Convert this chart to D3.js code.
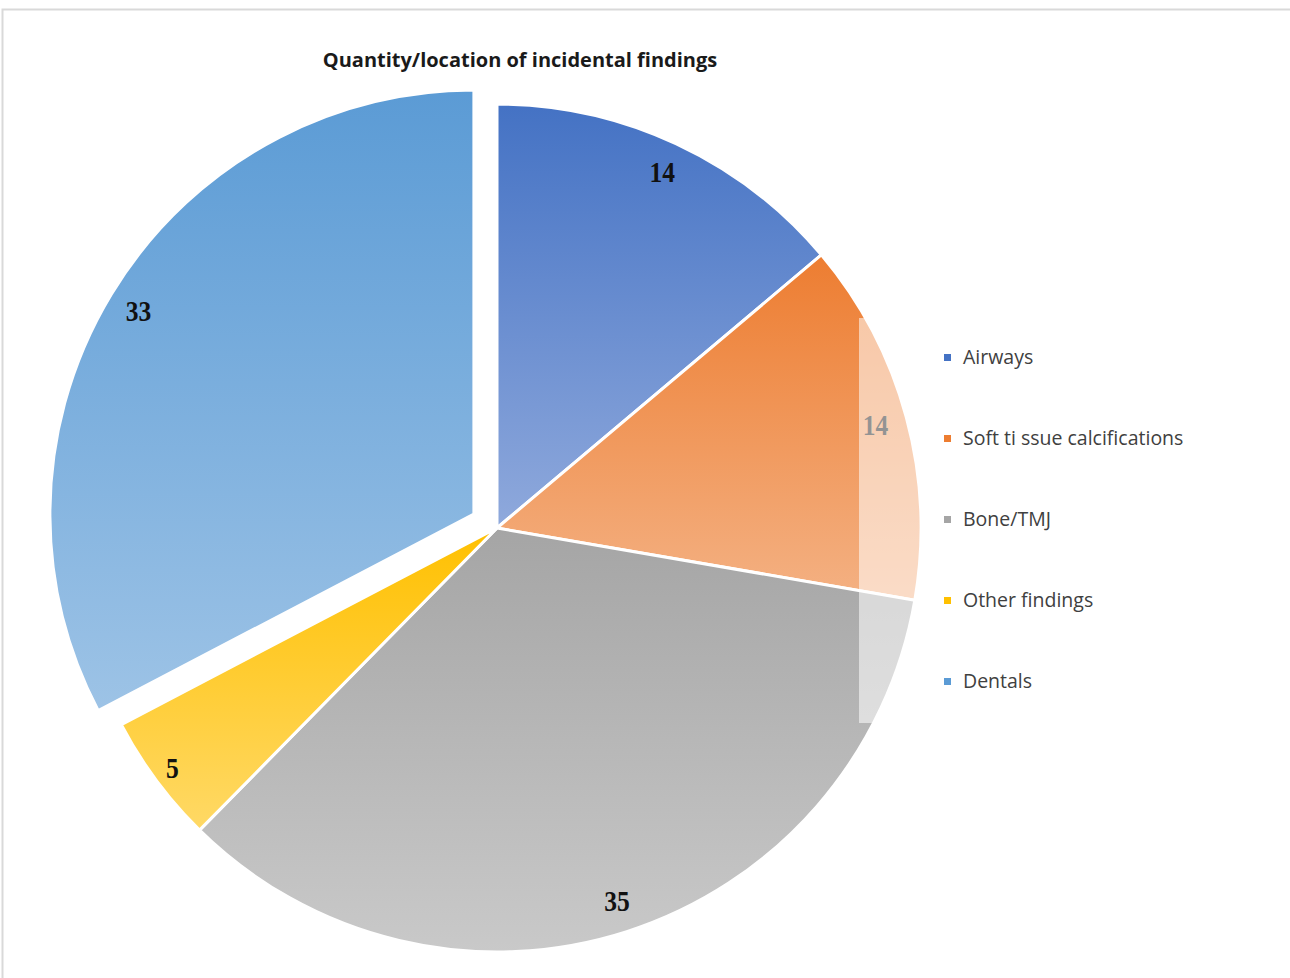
<!DOCTYPE html>
<html>
<head>
<meta charset="utf-8">
<script src="https://cdn.jsdelivr.net/npm/d3@7"></script>
<style>
  body { margin: 0; background: #fff; }
  svg { display: block; }
</style>
</head>
<body>
<svg id="chart" width="1290" height="978"></svg>
<script>
// data
const categories = ['Airways', 'Soft ti ssue calcifications', 'Bone/TMJ', 'Other findings', 'Dentals'];
const counts = [14, 14, 35, 5, 33];
const topColors = ['#4472C4', '#ED7D31', '#A5A5A5', '#FFC000', '#5B9BD5'];
const bottomColors = ['#8FA9DC', '#F4B183', '#C9C9C9', '#FFD966', '#9DC3E6'];
const exploded = ['Dentals'];

const width = 1290, height = 978;
const cx = 497, cy = 528;
const radius = 424;
const explodeBy = 27;
const labelR = 392;

const svg = d3.select('#chart');

// frame of the original figure
svg.append('path')
    .attr('d', `M2.5,${height} V9.5 H${width}`)
    .attr('fill', 'none')
    .attr('stroke', '#d9d9d9')
    .attr('stroke-width', 2);

svg.append('text')
    .attr('x', 520)
    .attr('y', 67)
    .attr('text-anchor', 'middle')
    .attr('font-family', '"Open Sans", sans-serif')
    .attr('font-weight', 'bold')
    .attr('font-size', '20px')
    .attr('fill', '#1a1a1a')
    .text('Quantity/location of incidental findings');

const data = categories.map((c, i) => ({ name: c, value: counts[i], i }));

const defs = svg.append('defs');
data.forEach(d => {
    const g = defs.append('linearGradient')
        .attr('id', 'grad' + d.i)
        .attr('x1', 0).attr('y1', 0).attr('x2', 0).attr('y2', 1);
    g.append('stop').attr('offset', '0%').attr('stop-color', topColors[d.i]);
    g.append('stop').attr('offset', '100%').attr('stop-color', bottomColors[d.i]);
});

const pie = d3.pie().sort(null).value(d => d.value);
const arcs = pie(data);
const arc = d3.arc().innerRadius(0).outerRadius(radius);

function offset(a) {
    if (!exploded.includes(a.data.name)) return [0, 0];
    const mid = (a.startAngle + a.endAngle) / 2;
    return [Math.sin(mid) * explodeBy, -Math.cos(mid) * explodeBy];
}

const g = svg.append('g').attr('transform', `translate(${cx},${cy})`);

const slices = g.selectAll('g.slice')
    .data(arcs)
    .enter()
    .append('g')
    .attr('class', 'slice')
    .attr('transform', a => `translate(${offset(a)})`);

slices.append('path')
    .attr('d', arc)
    .attr('fill', a => `url(#grad${a.data.i})`)
    .attr('stroke', '#fff')
    .attr('stroke-width', 3)
    .attr('stroke-linejoin', 'round');

slices.append('text')
    .attr('transform', a => {
        const mid = (a.startAngle + a.endAngle) / 2;
        // small slices get their label pushed a bit further out
        const r = a.data.value < 10 ? labelR + 12 : labelR;
        return `translate(${Math.sin(mid) * r},${-Math.cos(mid) * r}) scale(0.88,1)`;
    })
    .attr('text-anchor', 'middle')
    .attr('dy', '0.33em')
    .attr('font-family', '"Liberation Serif", serif')
    .attr('font-weight', 'bold')
    .attr('font-size', '29px')
    .attr('fill', '#111')
    .text(a => a.data.value);

// washed-out legend box overlapping the pie edge
svg.append('rect')
    .attr('x', 859)
    .attr('y', 318)
    .attr('width', 70)
    .attr('height', 405)
    .attr('fill', '#fff')
    .attr('opacity', 0.55);

const legendY = d3.scalePoint()
    .domain(categories)
    .range([357, 681]);

const legend = svg.selectAll('g.legend')
    .data(data)
    .enter()
    .append('g')
    .attr('class', 'legend')
    .attr('transform', d => `translate(944,${legendY(d.name)})`);

legend.append('rect')
    .attr('x', 0)
    .attr('y', -3)
    .attr('width', 7)
    .attr('height', 7)
    .attr('fill', d => topColors[d.i]);

legend.append('text')
    .attr('x', 19)
    .attr('y', 0)
    .attr('dy', '0.35em')
    .attr('font-family', '"Open Sans", sans-serif')
    .attr('font-size', '19.5px')
    .attr('fill', '#404040')
    .text(d => d.name);
</script>
</body>
</html>
